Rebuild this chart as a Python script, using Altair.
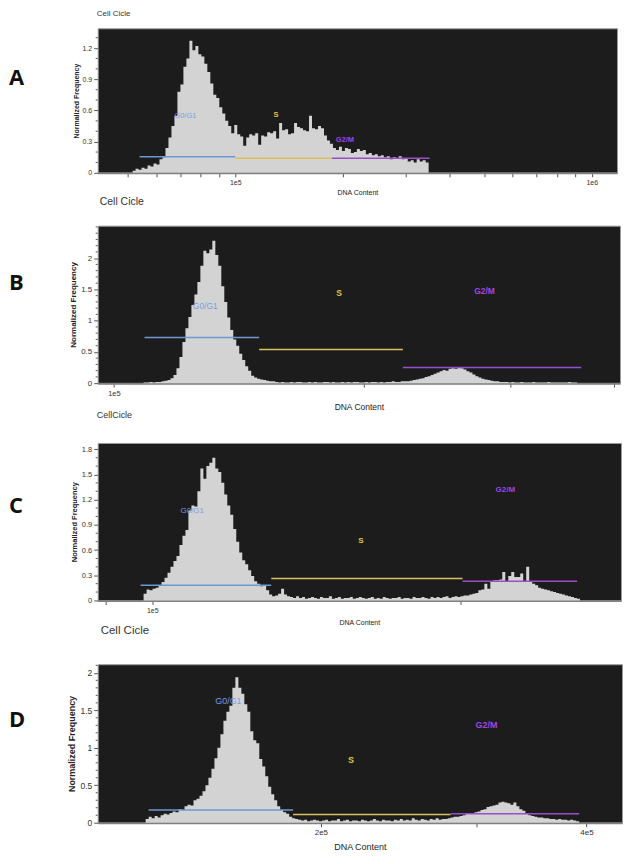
import altair as alt
import numpy as np
import pandas as pd

FONT = "Liberation Sans Narrow, Liberation Sans, Arial, sans-serif"
LETTER_FONT = "Open Sans, Noto Sans, sans-serif"
BG = "#1c1c1c"
HIST = "#d3d3d3"
GATE_NAMES = ["G0/G1", "S", "G2/M"]
GATE_LINE_COLORS = ["#7096d6", "#d9c25c", "#9550cc"]
GATE_TEXT_COLORS = ["#7b9de0", "#e3c342", "#a046e0"]

# ---------------- Panel A ----------------
A_hist_range = [51530, 348700]
A_heights = [0.02, 0.04, 0.03, 0.05, 0.04, 0.07, 0.06, 0.09, 0.08, 0.13,
             0.15, 0.24, 0.34, 0.45, 0.55, 0.78, 0.85, 1.02, 1.10, 1.27,
             1.18, 1.22, 1.14, 1.12, 1.05, 0.97, 0.86, 0.75, 0.72, 0.63,
             0.57, 0.50, 0.45, 0.38, 0.46, 0.37, 0.35, 0.26, 0.34, 0.37,
             0.36, 0.38, 0.27, 0.36, 0.35, 0.39, 0.38, 0.40, 0.33, 0.48,
             0.41, 0.42, 0.37, 0.38, 0.48, 0.44, 0.43, 0.41, 0.40, 0.55,
             0.43, 0.42, 0.45, 0.43, 0.36, 0.31, 0.28, 0.24, 0.22, 0.25,
             0.21, 0.24, 0.23, 0.19, 0.20, 0.23, 0.21, 0.22, 0.18, 0.19,
             0.17, 0.18, 0.16, 0.17, 0.15, 0.16, 0.13, 0.15, 0.14, 0.16,
             0.13, 0.14, 0.11, 0.12, 0.10, 0.13, 0.11, 0.12, 0.10]
A_xdomain = [41140, 1177000]
A_ydomain = [0, 1.39]
A_xticks = [50000, 60000, 70000, 80000, 90000, 100000, 200000, 300000, 400000,
            500000, 600000, 700000, 800000, 900000, 1000000]
A_xlabels = {100000: "1e5", 1000000: "1e6"}
A_yticks = [0, 0.3, 0.6, 0.9, 1.2]
A_yminor = [0.1, 0.2, 0.4, 0.5, 0.7, 0.8, 1.0, 1.1, 1.3]
A_gate_from = [53900, 100000, 186700]
A_gate_to = [100000, 186700, 350900]
A_gate_level = [0.155, 0.14, 0.14]
A_label_x = [72470, 130200, 203000]
A_label_y = [0.545, 0.56, 0.32]

# ---------------- Panel B ----------------
B_hist_range = [108550, 360700]
B_heights = ([0.01, 0.01, 0.02, 0.01, 0.02, 0.02, 0.03, 0.04, 0.05, 0.08, 0.13, 0.24,
              0.42, 0.66, 0.88, 1.06, 1.25, 1.42, 1.62, 1.88, 2.12, 2.08, 2.14, 2.28,
              2.05, 1.88, 1.55, 1.30, 1.05, 0.85, 0.70, 0.60, 0.47, 0.37, 0.27, 0.20,
              0.12, 0.09, 0.07, 0.06, 0.05, 0.04, 0.03, 0.03]
             + [0.02, 0.01, 0.02, 0.01, 0.01, 0.02, 0.01, 0.02, 0.02, 0.01, 0.01, 0.02,
                0.01, 0.02, 0.01, 0.01, 0.02, 0.02, 0.01, 0.02, 0.01, 0.01, 0.02, 0.01,
                0.02, 0.01, 0.02, 0.02, 0.01, 0.01, 0.02, 0.01, 0.02, 0.02, 0.01, 0.02,
                0.01, 0.02, 0.02, 0.03, 0.02, 0.02, 0.03]
             + [0.03, 0.03, 0.04, 0.05, 0.06, 0.07, 0.08, 0.10, 0.11, 0.13, 0.15, 0.17,
                0.19, 0.21, 0.20, 0.23, 0.24, 0.23, 0.26, 0.24, 0.22, 0.19, 0.17, 0.14,
                0.11, 0.09, 0.07, 0.06, 0.05, 0.04, 0.03, 0.03, 0.02]
             + [0.02, 0.02, 0.01, 0.02, 0.01, 0.01, 0.02, 0.01, 0.01, 0.01, 0.02, 0.01,
                0.01, 0.01, 0.01, 0.02, 0.01, 0.01, 0.01, 0.01, 0.01, 0.01, 0.02, 0.01,
                0.01])
B_xdomain = [95600, 406200]
B_ydomain = [0, 2.52]
B_xticks = [100000, 200000, 300000, 400000]
B_xlabels = {100000: "1e5"}
B_yticks = [0, 0.5, 1, 1.5, 2]
B_yminor = [0.1, 0.2, 0.3, 0.4, 0.6, 0.7, 0.8, 0.9, 1.1, 1.2, 1.3, 1.4,
            1.6, 1.7, 1.8, 1.9, 2.1, 2.2, 2.3, 2.4, 2.5]
B_gate_from = [108850, 149500, 222600]
B_gate_to = [149500, 222600, 364800]
B_gate_level = [0.73, 0.54, 0.25]
B_label_x = [128800, 186500, 279100]
B_label_y = [1.24, 1.45, 1.48]

# ---------------- Panel C ----------------
C_hist_range = [98070, 261800]
C_heights = ([0.08, 0.13, 0.12, 0.14, 0.15, 0.18, 0.22, 0.27, 0.33, 0.40,
              0.47, 0.53, 0.66, 0.77, 0.84, 1.07, 1.13, 1.12, 1.30, 1.57,
              1.45, 1.60, 1.64, 1.70, 1.57, 1.53, 1.40, 1.26, 1.13, 1.02,
              0.85, 0.70, 0.57, 0.48, 0.43, 0.36, 0.29, 0.23, 0.20, 0.17,
              0.18, 0.12, 0.07, 0.05, 0.06, 0.08, 0.14, 0.07, 0.05]
             + [0.04, 0.03, 0.05, 0.03, 0.04, 0.02, 0.03, 0.04, 0.03, 0.02,
                0.04, 0.03, 0.03, 0.05, 0.02, 0.03, 0.04, 0.02, 0.03, 0.03,
                0.04, 0.02, 0.03, 0.04, 0.03, 0.02, 0.03, 0.04, 0.02, 0.03,
                0.02, 0.04, 0.03, 0.02, 0.03, 0.03, 0.04, 0.02, 0.03, 0.03,
                0.02, 0.04, 0.03, 0.03, 0.04, 0.03, 0.02, 0.04, 0.03, 0.04,
                0.03, 0.04, 0.05, 0.03, 0.04, 0.05, 0.04]
             + [0.05, 0.06, 0.06, 0.07, 0.08, 0.09, 0.12, 0.13, 0.20, 0.14,
                0.22, 0.24, 0.24, 0.25, 0.34, 0.22, 0.29, 0.34, 0.28, 0.28,
                0.32, 0.22, 0.40, 0.22, 0.20, 0.18, 0.15, 0.14, 0.13, 0.12,
                0.11, 0.10, 0.09, 0.08, 0.07, 0.06, 0.05, 0.04, 0.03, 0.02])
C_xdomain = [88450, 287100]
C_ydomain = [0, 1.875]
C_xticks = [90000, 100000, 200000]
C_xlabels = {100000: "1e5"}
C_yticks = [0, 0.3, 0.6, 0.9, 1.2, 1.5, 1.8]
C_yminor = [0.1, 0.2, 0.4, 0.5, 0.7, 0.8, 1.0, 1.1, 1.3, 1.4, 1.6, 1.7]
C_gate_from = [97410, 130700, 201000]
C_gate_to = [130700, 201000, 260100]
C_gate_level = [0.18, 0.26, 0.23]
C_label_x = [109400, 159900, 221300]
C_label_y = [1.07, 0.71, 1.32]

# ---------------- Panel D ----------------
D_hist_range = [126600, 392500]
D_heights = ([0.05, 0.08, 0.06, 0.09, 0.07, 0.10, 0.12, 0.11, 0.13, 0.15,
              0.14, 0.18, 0.17, 0.22, 0.24, 0.23, 0.30, 0.32, 0.36, 0.42,
              0.50, 0.60, 0.72, 0.86, 1.00, 1.18, 1.36, 1.48, 1.56, 1.80,
              1.94, 1.80, 1.72, 1.58, 1.48, 1.22, 1.10, 1.06, 0.85, 0.75,
              0.62, 0.48, 0.38, 0.30, 0.22, 0.17, 0.14, 0.12, 0.08, 0.06]
             + [0.05, 0.04, 0.03, 0.04, 0.02, 0.03, 0.04, 0.03, 0.02, 0.03,
                0.04, 0.02, 0.03, 0.03, 0.05, 0.02, 0.03, 0.04, 0.02, 0.03,
                0.03, 0.02, 0.04, 0.03, 0.02, 0.03, 0.05, 0.03, 0.02, 0.04,
                0.03, 0.03, 0.02, 0.04, 0.03, 0.05, 0.03, 0.04, 0.03, 0.06,
                0.04, 0.03, 0.05, 0.04, 0.03, 0.05, 0.04, 0.06, 0.04, 0.05, 0.05]
             + [0.06, 0.07, 0.08, 0.08, 0.09, 0.10, 0.12, 0.12, 0.13, 0.14,
                0.15, 0.17, 0.18, 0.21, 0.22, 0.23, 0.24, 0.27, 0.28, 0.27,
                0.26, 0.24, 0.27, 0.22, 0.18, 0.16, 0.12, 0.10, 0.09, 0.08,
                0.07, 0.07, 0.06, 0.06, 0.05, 0.05, 0.04, 0.05, 0.04, 0.04,
                0.03, 0.04, 0.03, 0.02])
D_xdomain = [111700, 438900]
D_ydomain = [0, 2.115]
D_xticks = [200000, 300000, 400000]
D_xlabels = {200000: "2e5", 400000: "4e5"}
D_yticks = [0, 0.5, 1, 1.5, 2]
D_yminor = [0.1, 0.2, 0.3, 0.4, 0.6, 0.7, 0.8, 0.9, 1.1, 1.2, 1.3, 1.4,
            1.6, 1.7, 1.8, 1.9, 2.1]
D_gate_from = [127560, 186000, 280600]
D_gate_to = [186000, 280600, 392500]
D_gate_level = [0.17, 0.11, 0.12]
D_label_x = [157100, 216300, 308100]
D_label_y = [1.63, 0.84, 1.30]

ONE = pd.DataFrame({"z": [0]})


def panel(letter, hist_range, heights, xdom, ydom, xticks, xlabels, yticks, yminor,
          gfrom, gto, glevel, lx, ly, L, notes):
    edges = np.logspace(np.log10(hist_range[0]), np.log10(hist_range[1]), len(heights) + 1)
    hist = pd.DataFrame({"x": edges, "y": list(heights) + [heights[-1]]})
    xs = alt.Scale(type="log", domain=xdom, nice=False)
    ys = alt.Scale(domain=ydom, nice=False, zero=True)
    expr = " : ".join(f"datum.value == {k} ? '{v}'" for k, v in xlabels.items()) + " : ''"
    xaxis = alt.Axis(values=xticks, labelExpr=expr, title="DNA Content", tickSize=4,
                     labelFontSize=L["xl"], titleFontSize=L["xt"], titleFontWeight="normal",
                     titlePadding=L["xtp"], labelPadding=2, labelOverlap=False,
                     domainWidth=2, domainColor="#808080", tickColor="#555555")
    yaxis = alt.Axis(values=yticks, format="~g", title="Normalized Frequency", tickSize=4,
                     labelFontSize=L["yl"], titleFontSize=L["yt"], titleFontWeight="bold",
                     titlePadding=3, labelPadding=2, labelOverlap=False, domain=False,
                     tickColor="#555555")
    X = alt.X("x:Q", scale=xs, axis=xaxis)
    Y = alt.Y("y:Q", scale=ys, axis=yaxis)
    area = alt.Chart(hist).mark_area(interpolate="step-after", color=HIST).encode(x=X, y=Y)
    gates = pd.DataFrame({"x": gfrom, "x2": gto, "y": glevel, "c": GATE_LINE_COLORS})
    rules = alt.Chart(gates).mark_rule(strokeWidth=1.5).encode(
        x=X, x2="x2:Q", y=Y, color=alt.Color("c:N", scale=None))
    labs = pd.DataFrame({"x": lx, "y": ly, "t": GATE_NAMES, "c": GATE_TEXT_COLORS,
                         "k": ["n", "b", "b"]})
    lab_n = alt.Chart(labs).transform_filter("datum.k == 'n'").mark_text(
        fontSize=L["lab"], font=FONT).encode(
        x=X, y=Y, text="t:N", color=alt.Color("c:N", scale=None))
    lab_b = alt.Chart(labs).transform_filter("datum.k == 'b'").mark_text(
        fontSize=L["lab"], font=FONT, fontWeight="bold").encode(
        x=X, y=Y, text="t:N", color=alt.Color("c:N", scale=None))
    minor = alt.Chart(pd.DataFrame({"y": yminor})).mark_rule(
        color="#555555", strokeWidth=1).encode(
        y=Y, x=alt.value(-2), x2=alt.value(0))
    layers = [area, rules, lab_n, lab_b, minor]
    layers.append(alt.Chart(ONE).mark_text(text=letter, font=LETTER_FONT, fontSize=22,
                                           fontWeight="bold", align="left", baseline="middle",
                                           color="#111111").encode(
        x=alt.value(-89), y=alt.value(L["ly"])))
    for (t, px, py, fs) in notes:
        layers.append(alt.Chart(ONE).mark_text(text=t, font=FONT, fontSize=fs, align="left",
                                               baseline="middle", color="#333333").encode(
            x=alt.value(px), y=alt.value(py)))
    # invisible frame that fixes the panel's extent
    layers.append(alt.Chart(ONE).mark_rule(strokeOpacity=0, strokeWidth=0).encode(
        x=alt.value(-89), y=alt.value(-L["T"]), y2=alt.value(L["H"] + L["B"])))
    return alt.layer(*layers).properties(width=L["W"], height=L["H"])


LA = dict(W=521, H=145, T=18, B=38, ly=50, xl=7, xt=7, xtp=3, yl=7, yt=7, lab=7.5)
LB = dict(W=524, H=158, T=13, B=42, ly=58, xl=7.5, xt=8.5, xtp=6, yl=8, yt=8, lab=8.5)
LC = dict(W=525, H=158, T=16, B=45, ly=63, xl=7, xt=7, xtp=5, yl=7.5, yt=7.5, lab=8)
LD = dict(W=526, H=159, T=17, B=32, ly=56, xl=8, xt=9, xtp=6, yl=8.5, yt=9, lab=9)

pA = panel("A", A_hist_range, A_heights, A_xdomain, A_ydomain, A_xticks, A_xlabels, A_yticks,
           A_yminor, A_gate_from, A_gate_to, A_gate_level, A_label_x, A_label_y, LA,
           [("Cell Cicle", -1, -14, 8), ("Cell Cicle", 2, 174, 10.5)])
pB = panel("B", B_hist_range, B_heights, B_xdomain, B_ydomain, B_xticks, B_xlabels, B_yticks,
           B_yminor, B_gate_from, B_gate_to, B_gate_level, B_label_x, B_label_y, LB,
           [("CellCicle", -1, 190, 9)])
pC = panel("C", C_hist_range, C_heights, C_xdomain, C_ydomain, C_xticks, C_xlabels, C_yticks,
           C_yminor, C_gate_from, C_gate_to, C_gate_level, C_label_x, C_label_y, LC,
           [("Cell Cicle", 3, 189, 11.5)])
pD = panel("D", D_hist_range, D_heights, D_xdomain, D_ydomain, D_xticks, D_xlabels, D_yticks,
           D_yminor, D_gate_from, D_gate_to, D_gate_level, D_label_x, D_label_y, LD, [])

chart = alt.vconcat(pA, pB, pC, pD, spacing=0).properties(
    padding=0, background="white"
).configure_view(
    fill=BG, stroke="#9a9a9a", strokeWidth=1
).configure_axis(
    labelFont=FONT, titleFont=FONT, labelColor="#333333", titleColor="#222222", grid=False
)

chart.save("out.html", embed_options={"renderer": "svg", "actions": False})
